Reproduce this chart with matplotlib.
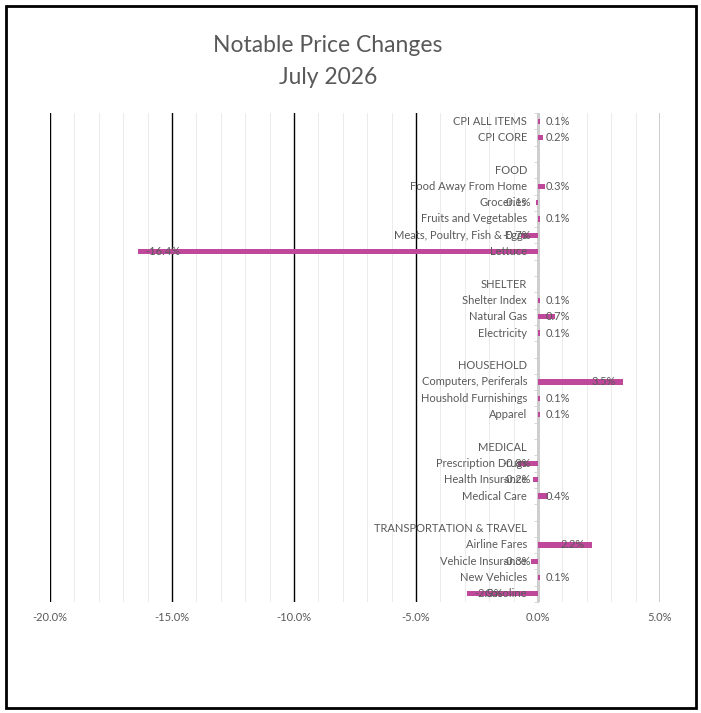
import matplotlib
matplotlib.use("Agg")
import matplotlib.pyplot as plt
from matplotlib.ticker import MultipleLocator, FuncFormatter
from matplotlib.patches import Rectangle

categories = [
    "CPI ALL ITEMS", "CPI CORE", "",
    "FOOD", "Food Away From Home", "Groceries", "Fruits and Vegetables",
    "Meats, Poultry, Fish & Eggs", "Lettuce", "",
    "SHELTER", "Shelter Index", "Natural Gas", "Electricity", "",
    "HOUSEHOLD", "Computers, Periferals", "Houshold Furnishings", "Apparel", "",
    "MEDICAL", "Prescription Drugs", "Health Insurance", "Medical Care", "",
    "TRANSPORTATION & TRAVEL", "Airline Fares", "Vehicle Insurance",
    "New Vehicles", "Gasoline",
]
values = [
    0.1, 0.2, None,
    None, 0.3, -0.1, 0.1, -0.7, -16.4, None,
    None, 0.1, 0.7, 0.1, None,
    None, 3.5, 0.1, 0.1, None,
    None, -0.8, -0.2, 0.4, None,
    None, 2.2, -0.3, 0.1, -2.9,
]
xticks = [-20, -15, -10, -5, 0, 5]

FONT = "Lato"
GRAY = "#595959"
BAR = "#C0489B"
FS = 8.0

fig = plt.figure(figsize=(7.01, 7.13), dpi=100)
ax = fig.add_axes([50/701, 1-602/713, 610/701, 489/713])

n = len(categories)
ys = list(range(n))

for y, v in zip(ys, values):
    if v is None:
        continue
    ax.barh(y, v, height=0.32, color=BAR, zorder=3)
    lbl = f"{v:.1f}%"
    w = 1.1
    pad = 0.3
    if v >= 0:
        if v - pad - w > pad:
            ax.text(v - pad, y, lbl, ha="right", va="center", fontsize=FS,
                    color=GRAY, family=FONT, zorder=5)
        else:
            ax.text(pad, y, lbl, ha="left", va="center", fontsize=FS,
                    color=GRAY, family=FONT, zorder=5)
    else:
        if v + pad + w < -pad:
            ax.text(v + pad, y, lbl, ha="left", va="center", fontsize=FS,
                    color=GRAY, family=FONT, zorder=5)
        else:
            ax.text(-pad, y, lbl, ha="right", va="center", fontsize=FS,
                    color=GRAY, family=FONT, zorder=5)

for y, c in zip(ys, categories):
    if c:
        ax.text(-0.45, y, c, ha="right", va="center", fontsize=FS,
                color=GRAY, family=FONT, zorder=4)

ax.set_xlim(-20, 5)
ax.set_ylim(n - 0.5, -0.5)

ax.xaxis.set_minor_locator(MultipleLocator(1))
ax.set_xticks(xticks)
ax.xaxis.set_major_formatter(FuncFormatter(lambda x, p: f"{x:.1f}%"))
ax.tick_params(axis="x", which="both", length=0, pad=7, labelsize=FS,
               labelcolor=GRAY)
for t in ax.get_xticklabels():
    t.set_family(FONT)

ax.grid(axis="x", which="major", color="black", linewidth=1.0, zorder=1)
ax.grid(axis="x", which="minor", color="#EBEBEB", linewidth=0.7, zorder=0)
ax.set_axisbelow(True)

ax.set_yticks([])
ax.set_yticks([i - 0.5 for i in range(n + 1)], minor=True)
ax.tick_params(axis="y", which="minor", length=3, color="#D0D0D0",
               direction="out")
ax.spines["left"].set_position(("data", 0))
ax.spines["left"].set_color("#D0D0D0")
ax.spines["left"].set_zorder(2)
for s in ["top", "right", "bottom"]:
    ax.spines[s].set_visible(False)

ax.axvline(0, color="#D0D0D0", linewidth=1.0, zorder=2)

fig.text(328/701, 1-46/713, "Notable Price Changes", ha="center", va="center",
         fontsize=16.5, color=GRAY, family=FONT)
fig.text(328/701, 1-77/713, "July 2026", ha="center", va="center",
         fontsize=16.5, color=GRAY, family=FONT)

fig.patches.append(Rectangle((6/701, 1-708/713), 690/701, 702/713,
                             transform=fig.transFigure, fill=False,
                             edgecolor="black", linewidth=2))

fig.savefig("out.png", dpi=100)
